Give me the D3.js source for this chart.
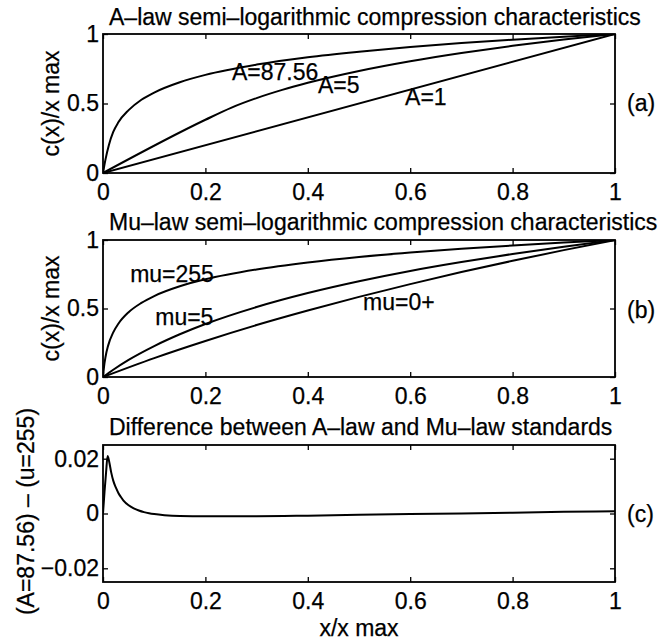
<!DOCTYPE html>
<html><head><meta charset="utf-8">
<script src="https://cdn.jsdelivr.net/npm/d3@7"></script>
<style>
body{margin:0;background:#fff}
text{font-family:"Liberation Sans",Arial,Helvetica,sans-serif;fill:#000;stroke:#000;stroke-width:0.25px}
</style>
</head><body>
<svg id="chart" width="659" height="642"></svg>
<script>
// ---------- data ----------
const xTicks = [0, 0.2, 0.4, 0.6, 0.8, 1];
const xTickLabels = ["0", "0.2", "0.4", "0.6", "0.8", "1"];
const yTicksAB = [0, 0.5, 1];
const yTickLabelsAB = ["0", "0.5", "1"];
const yTicksC = [-0.02, 0, 0.02];
const yTickLabelsC = ["\u22120.02", "0", "0.02"];

// panel (a): A-law
const xA87 = [0, 0.005, 0.0114, 0.02, 0.03, 0.05, 0.075, 0.1, 0.15, 0.2, 0.3, 0.4, 0.5, 0.6, 0.7, 0.8, 0.9, 1];
const aLaw87 = [0, 0.10, 0.20, 0.295, 0.365, 0.452, 0.527, 0.579, 0.653, 0.706, 0.780, 0.833, 0.873, 0.907, 0.935, 0.959, 0.981, 1];
const xA5 = [0, 0.2, 0.25, 0.3, 0.35, 0.4, 0.5, 0.6, 0.7, 0.8, 0.9, 1];
const aLaw5 = [0, 0.383, 0.469, 0.539, 0.598, 0.649, 0.734, 0.804, 0.863, 0.915, 0.960, 1];
const xA1 = [0, 1];
const aLaw1 = [0, 1];

// panel (b): Mu-law
const xMu255 = [0, 0.002, 0.005, 0.01, 0.02, 0.03, 0.05, 0.075, 0.1, 0.15, 0.2, 0.3, 0.4, 0.5, 0.6, 0.7, 0.8, 0.9, 1];
const mu255 = [0, 0.074, 0.148, 0.229, 0.326, 0.389, 0.473, 0.541, 0.591, 0.662, 0.713, 0.785, 0.836, 0.876, 0.908, 0.936, 0.960, 0.981, 1];
const xMu5 = [0, 0.02, 0.05, 0.1, 0.15, 0.2, 0.3, 0.4, 0.5, 0.6, 0.7, 0.8, 0.9, 1];
const mu5 = [0, 0.053, 0.125, 0.226, 0.312, 0.387, 0.511, 0.613, 0.699, 0.774, 0.839, 0.898, 0.951, 1];
const xMu0 = [0, 0.1, 0.2, 0.3, 0.4, 0.5, 0.6, 0.7, 0.8, 0.9, 1];
const mu0 = [0, 0.138, 0.263, 0.379, 0.485, 0.585, 0.678, 0.766, 0.848, 0.926, 1];

// panel (c): difference
const xDiff = [0, 0.003, 0.006, 0.009, 0.012, 0.016, 0.02, 0.025, 0.03, 0.035, 0.04, 0.05, 0.06, 0.07, 0.08, 0.09, 0.1, 0.12, 0.15, 0.2, 0.3, 0.4, 0.5, 0.6, 0.7, 0.8, 0.9, 1];
const diffVals = [0, 0.008, 0.015, 0.021, 0.019, 0.015, 0.012, 0.0095, 0.0075, 0.006, 0.0047, 0.003, 0.0019, 0.0011, 0.0005, 0.0001, -0.0002, -0.0006, -0.0009, -0.001, -0.001, -0.0008, -0.0005, -0.0002, 0.0, 0.0003, 0.0006, 0.0008];

// curve labels (text, data x, data y)
const labelsA = [["A=87.56", 0.252, 0.669], ["A=5", 0.420, 0.576], ["A=1", 0.590, 0.489]];
const labelsB = [["mu=255", 0.053, 0.693], ["mu=5", 0.102, 0.380], ["mu=0+", 0.508, 0.489]];

const titles = ["A\u2013law semi\u2013logarithmic compression characteristics",
                "Mu\u2013law semi\u2013logarithmic compression characteristics",
                "Difference between A\u2013law and Mu\u2013law standards"];
const yLabels = ["c(x)/x max", "c(x)/x max", "(A=87.56) \u2013 (u=255)"];
const panelTags = ["(a)", "(b)", "(c)"];

// ---------- drawing ----------
const FS = 23;
const svg = d3.select("#chart");
svg.append("rect").attr("width", 659).attr("height", 642).attr("fill", "#fff");
const x = d3.scaleLinear().domain([0, 1]).range([103, 615]);

const panels = [
  {top: 34, bottom: 173, domain: [0, 1], yt: yTicksAB, ytl: yTickLabelsAB,
   series: [[xA87, aLaw87], [xA5, aLaw5], [xA1, aLaw1]], labels: labelsA,
   titleY: 25, ylx: 59, tagY: 111},
  {top: 240, bottom: 377, domain: [0, 1], yt: yTicksAB, ytl: yTickLabelsAB,
   series: [[xMu255, mu255], [xMu5, mu5], [xMu0, mu0]], labels: labelsB,
   titleY: 230, ylx: 59, tagY: 318},
  {top: 445, bottom: 582, domain: [-0.025, 0.025], yt: yTicksC, ytl: yTickLabelsC,
   series: [[xDiff, diffVals]], labels: [],
   titleY: 435, ylx: 34, tagY: 522}
];

panels.forEach((p, pi) => {
  const y = d3.scaleLinear().domain(p.domain).range([p.bottom, p.top]);
  const g = svg.append("g");
  const line = d3.line().x(d => x(d[0])).y(d => y(d[1])).curve(d3.curveMonotoneX);

  const clipId = "clip" + pi;
  svg.append("clipPath").attr("id", clipId).append("rect")
    .attr("x", 103).attr("y", p.top).attr("width", 512).attr("height", p.bottom - p.top);

  p.series.forEach(([xs, ys]) => {
    g.append("path").datum(xs.map((v, i) => [v, ys[i]]))
      .attr("d", line).attr("fill", "none").attr("stroke", "#000")
      .attr("stroke-width", 2).attr("stroke-linejoin", "round")
      .attr("clip-path", `url(#${clipId})`);
  });

  // axes
  const styleAxis = sel => {
    sel.select(".domain").remove();
    sel.selectAll("line").attr("stroke", "#000").attr("stroke-width", 1.3);
    sel.selectAll("text").attr("font-size", FS).attr("font-family", '"Liberation Sans",Arial,sans-serif').attr("fill", "#000");
  };
  g.append("g").attr("transform", `translate(0,${p.bottom})`)
    .call(d3.axisBottom(x).tickValues(xTicks).tickFormat((d, i) => xTickLabels[i]).tickSizeInner(-5).tickSizeOuter(0).tickPadding(11))
    .call(styleAxis);
  g.append("g").attr("transform", `translate(0,${p.top})`)
    .call(d3.axisTop(x).tickValues(xTicks).tickFormat("").tickSizeInner(-5).tickSizeOuter(0))
    .call(styleAxis);
  g.append("g").attr("transform", `translate(103,0)`)
    .call(d3.axisLeft(y).tickValues(p.yt).tickFormat((d, i) => p.ytl[i]).tickSizeInner(-5).tickSizeOuter(0).tickPadding(4))
    .call(styleAxis);
  g.append("g").attr("transform", `translate(615,0)`)
    .call(d3.axisRight(y).tickValues(p.yt).tickFormat("").tickSizeInner(-5).tickSizeOuter(0))
    .call(styleAxis);

  // box
  g.append("rect").attr("x", 103).attr("y", p.top).attr("width", 512).attr("height", p.bottom - p.top)
    .attr("fill", "none").attr("stroke", "#000").attr("stroke-width", 1.8);

  // title
  g.append("text").attr("x", 109).attr("y", p.titleY).attr("font-size", FS).text(titles[pi]);
  // y label
  g.append("text").attr("transform", `translate(${p.ylx},${(p.top + p.bottom) / 2 + (pi === 2 ? -2 : 0)}) rotate(-90)`)
    .attr("text-anchor", "middle").attr("font-size", FS).text(yLabels[pi]);
  // tag
  g.append("text").attr("x", 627).attr("y", p.tagY).attr("font-size", FS).text(panelTags[pi]);
  // curve labels
  p.labels.forEach(([t, lx, ly]) => {
    g.append("text").attr("x", x(lx)).attr("y", y(ly)).attr("font-size", FS).text(t);
  });
});

svg.append("text").attr("x", x(0.5)).attr("y", 636).attr("text-anchor", "middle").attr("font-size", FS).text("x/x max");
</script>
</body></html>
